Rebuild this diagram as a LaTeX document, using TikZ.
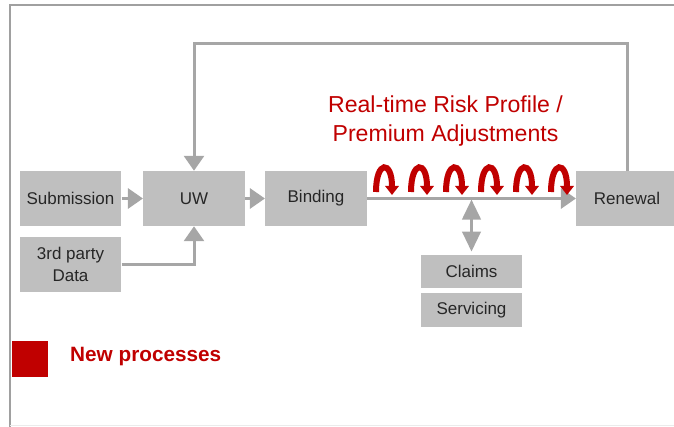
\documentclass[tikz,border=0pt]{standalone}
\usepackage{fontspec}
\setmainfont{Liberation Sans}
\usetikzlibrary{arrows.meta}
\definecolor{boxgray}{HTML}{BFBFBF}
\definecolor{linegray}{HTML}{A6A6A6}
\definecolor{framegray}{HTML}{A0A0A0}
\definecolor{newred}{HTML}{C00000}
\begin{document}
\begin{tikzpicture}[x=0.03cm,y=-0.03cm,
    proc/.style={fill=boxgray,minimum width=3.05cm,minimum height=1.65cm,inner sep=0pt,
        text=black!85,font=\fontsize{14.5}{19}\selectfont},
    flow/.style={linegray,line width=0.09cm,-{Triangle[length=0.45cm,width=0.6cm]}},
    adjust/.style={newred,line width=0.18cm,-{Triangle[length=0.27cm,width=0.4cm]}}]
    \useasboundingbox (0,0) rectangle (674,427);
    \draw[framegray,line width=0.06cm] (10,427) -- (10,5) -- (674,5);
    \draw[black!8,line width=0.03cm] (10,425) -- (674,425);

    \node[proc] (sub) at (70.5,198.5) {Submission};
    \node[proc] (uw) at (194,198.5) {UW};
    \node[proc] (bind) at (316,198.5) {Binding};
    \node[proc] (renew) at (627,198.5) {Renewal};
    \node[proc,align=center] (third) at (70.5,264.5) {3rd party\\Data};
    \node[proc,minimum height=1cm] (claims) at (471.5,271.5) {Claims};
    \node[proc,minimum height=1cm] (serv) at (471.5,310) {Servicing};
    \node[text=newred,align=center,font=\fontsize{19.7}{24.8}\selectfont] (title) at (445.5,121)
        {Real-time Risk Profile /\\Premium Adjustments};
    \node[fill=newred,minimum size=1.08cm,inner sep=0pt] (key) at (30,358.5) {};
    \node[anchor=west,inner sep=0pt,text=newred,font=\fontsize{17.7}{20}\selectfont\bfseries] (keytext) at (70,357) {New processes};
    \coordinate (tap) at (471.5,199.5);

    \draw[flow] (sub) -- (uw);
    \draw[flow] (uw) -- (bind);
    \draw[flow] (bind) -- (renew);
    \draw[flow] (third.east) -| (uw.south);
    \draw[flow] (renew.north) -- ++(0,-127) -| (uw.north);
    \draw[flow,{Triangle[length=0.6cm,width=0.55cm]}-{Triangle[length=0.6cm,width=0.55cm]},shorten <=0.09cm] (claims.north) -- (tap);

    \foreach \x in {376,411,446,481,516,551}
        \draw[adjust] (\x,192) .. controls (\x,160) and (\x+16,160) .. (\x+16,195);
\end{tikzpicture}
\end{document}
